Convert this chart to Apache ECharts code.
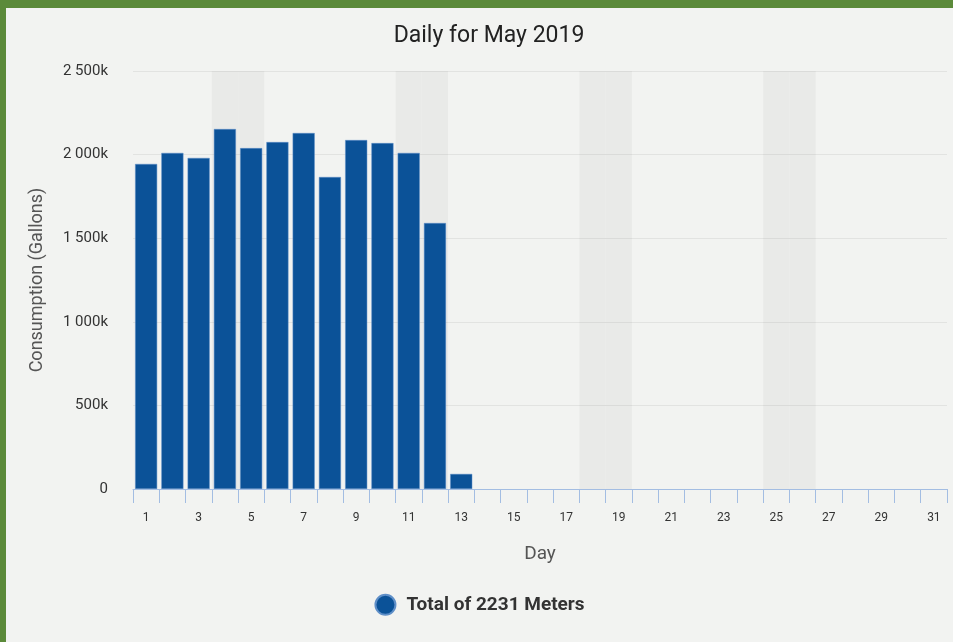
<!DOCTYPE html>
<title>daily consumption</title>
<style>
body {margin: 0; background: #5b8a3a;}
#echart {position: absolute; left: 6px; top: 8px; width: 947px; height: 634px; background: #f2f3f1;}
</style>
<div id='echart'></div>
<script src='https://cdn.jsdelivr.net/npm/echarts@6/dist/echarts.min.js'></script>
<script>
// days of May 2019, gallons per day
let days = Array.from({length: 31}, (_, i) => String(i + 1))
let consumption = [1944000, 2010000, 1980000, 2153000, 2039000, 2075000, 2129000, 1866000, 2087000, 2069000, 2010000, 1591000, 90000,
	null, null, null, null, null, null, null, null, null, null, null, null, null, null, null, null, null, null]
// weekend shading bands (sat + sun)
let weekend = days.map(d => [4, 5, 11, 12, 18, 19, 25, 26].includes(+d) ? 2500000 : null)

let echart = echarts.init(document.querySelector('#echart'))
let option = {
	textStyle: {fontFamily: 'Roboto'},
	title: {text: 'Daily for May 2019', left: 478, top: 5, textAlign: 'center', textStyle: {fontSize: 23, fontWeight: 'normal', color: '#222'}},
	legend: {bottom: 17, left: 'center', icon: 'circle', itemWidth: 20, itemHeight: 20, data: ['Total of 2231 Meters'],
		textStyle: {fontSize: 19, fontWeight: 'bold', color: '#333', padding: [0, 0, 0, 6]}},
	grid: {left: 127, right: 6, top: 63, bottom: 153},
	xAxis: [
		{type: 'category', data: days, name: 'Day', nameLocation: 'middle', nameGap: 50, nameTextStyle: {fontSize: 19, color: '#555'},
			axisLine: {show: true, onZero: false, lineStyle: {color: '#a3bde2', width: 1}},
			axisTick: {show: true, length: 14, interval: 0, lineStyle: {color: '#a3bde2', width: 1}},
			axisLabel: {interval: 1, margin: 19, fontSize: 12, color: '#333'}, z: 5},
		{type: 'category', data: days, show: false},
	],
	yAxis: {type: 'value', min: 0, max: 2500000, interval: 500000,
		name: 'Consumption (Gallons)', nameLocation: 'middle', nameGap: 79, nameTextStyle: {fontSize: 18, color: '#555'},
		axisLine: {show: false}, axisTick: {show: false},
		splitLine: {lineStyle: {color: '#e2e3e1'}},
		axisLabel: {fontSize: 15, color: '#333', margin: 25,
			formatter: v => v === 0 ? '0' : String(v / 1000).replace(/\B(?=(\d{3})+(?!\d))/g, ' ') + 'k'}},
	series: [
		{type: 'bar', name: 'weekend', xAxisIndex: 1, data: weekend, barCategoryGap: 0, silent: true,
			itemStyle: {color: 'rgba(0,0,0,0.035)'}, z: 0},
		{type: 'bar', name: 'Total of 2231 Meters', data: consumption, barCategoryGap: '16%',
			itemStyle: {color: '#0b5298', borderColor: '#5f8fc8', borderWidth: 0.5}},
	],
}

echart.setOption(option)
addEventListener('resize', function (event) {echart.resize()})
</script>
